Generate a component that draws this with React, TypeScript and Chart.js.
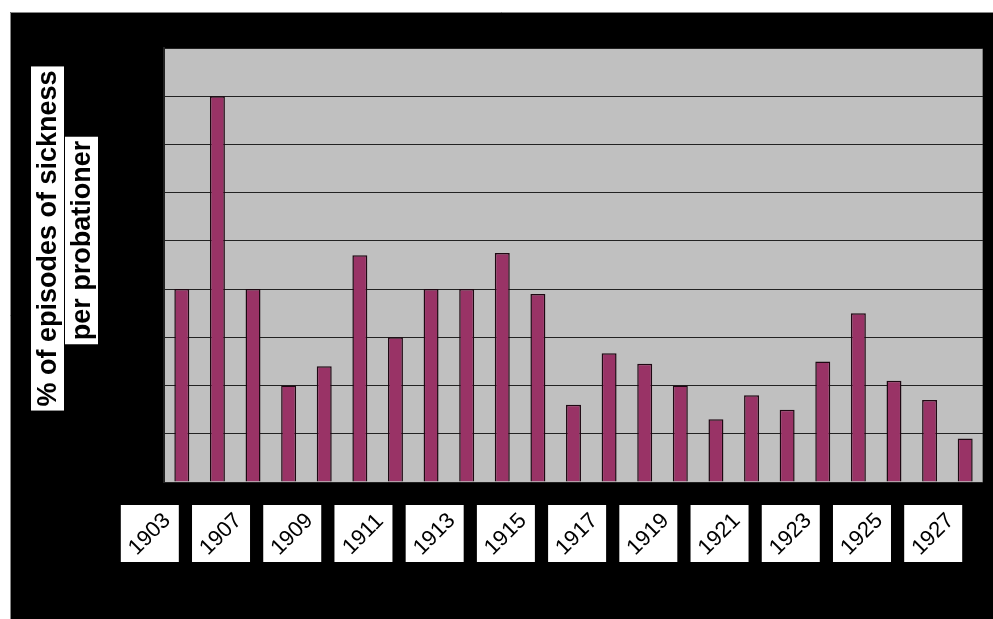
import React, { useEffect, useRef } from "react";
import { Chart, registerables } from "chart.js";

Chart.register(...registerables);

const years = [
  "1903", "1905", "1907", "1908", "1909", "1910", "1911", "1912", "1913", "1914", "1915", "1916",
  "1917", "1918", "1919", "1920", "1921", "1922", "1923", "1924", "1925", "1926", "1927",
];
const tickLabels = [
  "1903", "", "1907", "", "1909", "", "1911", "", "1913", "", "1915", "",
  "1917", "", "1919", "", "1921", "", "1923", "", "1925", "", "1927",
];
const sickness = [
  4.0, 8.0, 4.0, 2.0, 2.4, 4.7, 3.0, 4.0, 4.0, 4.75, 3.9, 1.6,
  2.67, 2.45, 2.0, 1.3, 1.8, 1.5, 2.5, 3.5, 2.1, 1.7, 0.9,
];
const yTitleLines = ["% of episodes of sickness", "per probationer"];

const framePlugin = {
  id: "frame",
  beforeDraw(chart: any) {
    const { ctx, chartArea, width, height } = chart;
    ctx.save();
    ctx.fillStyle = "#ffffff";
    ctx.fillRect(0, 0, width, height);
    ctx.fillStyle = "#000000";
    ctx.fillRect(10, 12, width - 10, height - 12);
    ctx.strokeStyle = "#888888";
    ctx.lineWidth = 1;
    ctx.beginPath();
    ctx.moveTo(10.5, height);
    ctx.lineTo(10.5, 12.5);
    ctx.lineTo(width, 12.5);
    ctx.stroke();
    ctx.fillStyle = "#c0c0c0";
    ctx.fillRect(chartArea.left, chartArea.top, chartArea.right - chartArea.left, chartArea.bottom - chartArea.top);
    ctx.strokeStyle = "#808080";
    ctx.strokeRect(chartArea.left + 0.5, chartArea.top + 0.5, chartArea.right - chartArea.left - 1, chartArea.bottom - chartArea.top);
    ctx.restore();
  },
  afterDraw(chart: any) {
    const { ctx, chartArea } = chart;
    const xs = chart.scales.x;
    ctx.save();
    // x labels
    ctx.font = "22px 'Liberation Sans', Arial, sans-serif";
    ctx.textAlign = "center";
    ctx.textBaseline = "middle";
    tickLabels.forEach((lab, i) => {
      if (!lab) return;
      const x = xs.getPixelForValue(i);
      const right = x - 3;
      const left = right - 58;
      const top = chartArea.bottom + 23;
      const h = 57;
      ctx.fillStyle = "#ffffff";
      ctx.fillRect(left, top, 58, h);
      ctx.save();
      ctx.translate(left + 29, top + h / 2 + 1);
      ctx.rotate(-Math.PI / 4);
      ctx.fillStyle = "#000000";
      ctx.fillText(lab, 0, 0);
      ctx.restore();
    });
    // y title
    ctx.font = "bold 27px 'Liberation Sans', Arial, sans-serif";
    const centers = [
      { x: 47.5, y: 238.5 },
      { x: 81.5, y: 240.5 },
    ];
    yTitleLines.forEach((t, i) => {
      const w = ctx.measureText(t).width + 8;
      const c = centers[i];
      ctx.save();
      ctx.translate(c.x, c.y);
      ctx.rotate(-Math.PI / 2);
      ctx.fillStyle = "#ffffff";
      ctx.fillRect(-w / 2, -16.5, w, 33);
      ctx.fillStyle = "#000000";
      ctx.fillText(t, 0, 1);
      ctx.restore();
    });
    ctx.restore();
  },
};

export default function App() {
  const ref = useRef<HTMLCanvasElement | null>(null);
  useEffect(() => {
    if (!ref.current) return;
    const chart = new Chart(ref.current, {
      type: "bar",
      data: {
        labels: years,
        datasets: [
          {
            data: sickness,
            backgroundColor: "#993366",
            borderColor: "#1e0812",
            borderWidth: 1.5,
            barPercentage: 0.42,
            categoryPercentage: 1,
          },
        ],
      },
      options: {
        responsive: true,
        maintainAspectRatio: false,
        animation: false,
        layout: { padding: { left: 164, top: 48, right: 10, bottom: 137 } },
        plugins: { legend: { display: false }, tooltip: { enabled: false } },
        scales: {
          x: {
            ticks: { display: false },
            grid: { display: false, drawTicks: false },
            border: { display: false },
          },
          y: {
            min: 0,
            max: 9,
            ticks: { display: false, stepSize: 1 },
            grid: { color: "#222222", lineWidth: 1, drawTicks: false },
            border: { display: true, color: "#222222", width: 2 },
          },
        },
      },
      plugins: [framePlugin],
    });
    return () => chart.destroy();
  }, []);
  return (
    <div style={{ position: "fixed", left: 0, top: 0, width: 993, height: 619 }}>
      <canvas ref={ref} />
    </div>
  );
}
